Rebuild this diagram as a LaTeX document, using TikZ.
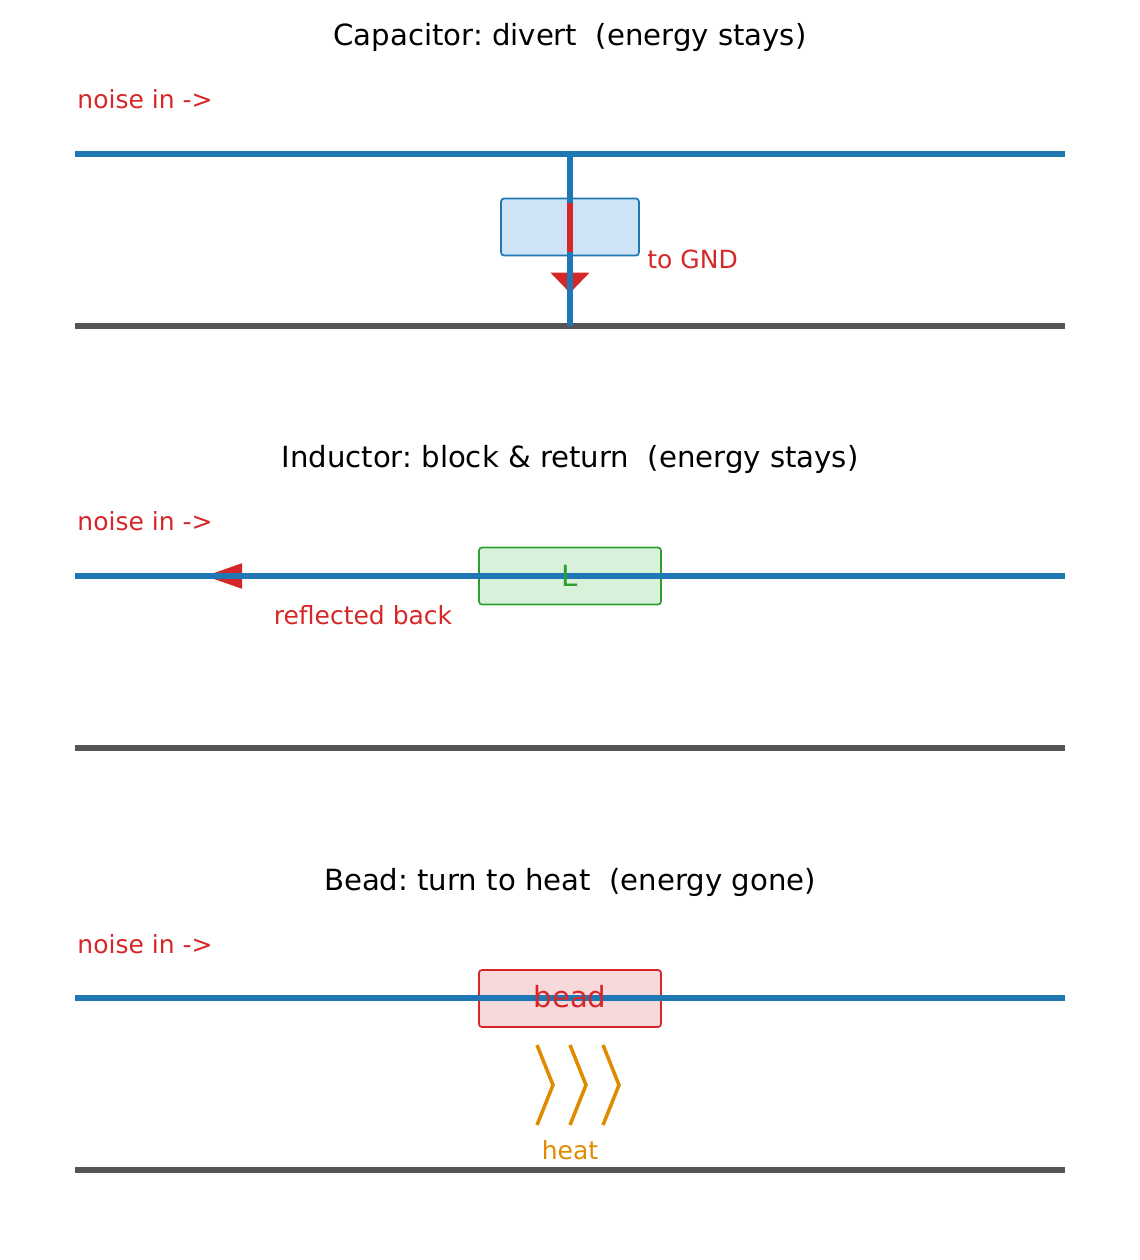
\documentclass[tikz,border=0pt]{standalone}
\usepackage{fontspec}
\setmainfont{DejaVu Sans}
\usetikzlibrary{arrows.meta}
\frenchspacing
\definecolor{mblue}{HTML}{1F77B4}
\definecolor{mred}{HTML}{D62728}
\definecolor{mgreen}{HTML}{2CA02C}
\definecolor{morange}{HTML}{E08A00}
\definecolor{mgray}{HTML}{555555}
\definecolor{capfill}{HTML}{CFE3F6}
\definecolor{indfill}{HTML}{D9F0DA}
\definecolor{beadfill}{HTML}{F7D9DC}
\tikzset{
  sig/.style={draw=mblue, line width=2.6pt},
  gnd/.style={draw=mgray, line width=2.6pt},
  title/.style={anchor=base, font=\fontsize{14}{16}\selectfont, inner sep=0pt},
  lbl/.style={anchor=base, font=\fontsize{12}{14}\selectfont, inner sep=0pt, text=mred},
  big/.style={anchor=base, font=\fontsize{14}{16}\selectfont, inner sep=0pt},
  comp/.style={rounded corners=1.5pt, line width=0.8pt, inner sep=0pt, minimum height=27.4pt},
  heatline/.style={draw=morange, line width=1.7pt}
}
\begin{document}
\begin{tikzpicture}[x=0.48pt, y=-0.48pt]
\useasboundingbox (0,0) rectangle (1140,1260);
% ---------- Panel 1: capacitor ----------
\node[title] (t1) at (570,45) {Capacitor: divert\ \ (energy stays)};
\node[lbl, anchor=base west] (n1) at (77,108) {noise in ->};
\coordinate (r1a) at (75,154); \coordinate (r1b) at (1065,154);
\coordinate (g1a) at (75,326); \coordinate (g1b) at (1065,326);
\draw[sig] (r1a) -- (r1b);
\draw[gnd] (g1a) -- (g1b);
\node[comp, draw=mblue, fill=capfill, minimum width=66.2pt] (cap) at (570,227) {};
\coordinate (c1top) at (570,154); \coordinate (c1bot) at (570,326);
\coordinate (a1s) at (570,181); \coordinate (a1e) at (570,293);
\draw[mred, line width=3pt, -{Triangle[length=9.8pt, width=18.2pt]}] (a1s) -- (a1e);
\draw[sig] (c1top) -- (570,203);
\draw[sig] (570,252) -- (c1bot);
\node[lbl, anchor=base west] (gnd1) at (647,268) {to GND};
% ---------- Panel 2: inductor ----------
\node[title] (t2) at (570,467) {Inductor: block \& return\ \ (energy stays)};
\node[lbl, anchor=base west] (n2) at (77,530) {noise in ->};
\node[comp, draw=mgreen, fill=indfill, minimum width=87.4pt] (ind) at (570,576) {};
\coordinate (a2s) at (430,576); \coordinate (a2e) at (205,576);
\draw[mred, line width=2.4pt, -{Triangle[length=17.8pt, width=11.6pt]}] (a2s) -- (a2e);
\coordinate (r2a) at (75,576); \coordinate (r2b) at (1065,576);
\coordinate (g2a) at (75,748); \coordinate (g2b) at (1065,748);
\draw[sig] (r2a) -- (r2b);
\draw[gnd] (g2a) -- (g2b);
\node[big, text=mgreen] (Lt) at (570,586) {L};
\node[lbl] (refl) at (363,624) {reflected back};
% ---------- Panel 3: bead ----------
\node[title] (t3) at (570,890) {Bead: turn to heat\ \ (energy gone)};
\node[lbl, anchor=base west] (n3) at (77,953) {noise in ->};
\node[comp, draw=mred, fill=beadfill, minimum width=87.4pt] (bead) at (570,998.5) {};
\coordinate (r3a) at (75,998); \coordinate (r3b) at (1065,998);
\coordinate (g3a) at (75,1170); \coordinate (g3b) at (1065,1170);
\draw[sig] (r3a) -- (r3b);
\draw[gnd] (g3a) -- (g3b);
\node[big, text=mred] (beadt) at (570,1007) {bead};
\foreach \i/\xx in {1/537,2/570,3/603}{
  \coordinate (h\i a) at (\xx,1045);
  \coordinate (h\i b) at (\xx+16,1085);
  \coordinate (h\i c) at (\xx,1125);
  \draw[heatline] (h\i a) -- (h\i b) -- (h\i c);
}
\node[lbl, text=morange] (heat) at (570,1159) {heat};
\end{tikzpicture}
\end{document}
